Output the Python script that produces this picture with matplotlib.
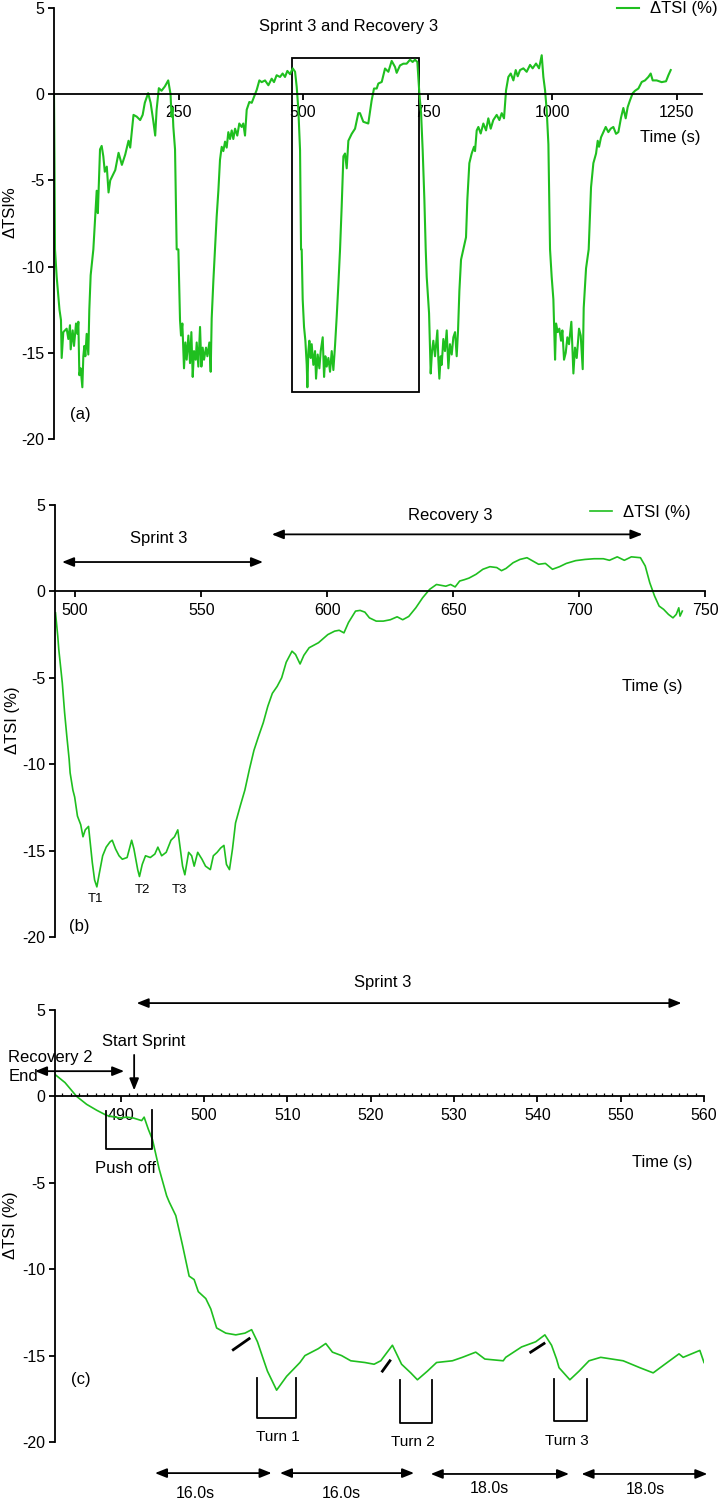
import matplotlib
matplotlib.use("Agg")
import matplotlib.pyplot as plt
from matplotlib.patches import Rectangle
from matplotlib.ticker import MultipleLocator
import numpy as np

plt.rcParams['font.family'] = ['Liberation Sans', 'DejaVu Sans']
plt.rcParams['axes.unicode_minus'] = False

GREEN = '#1fbf1f'
LEGEND_LABEL = 'ΔTSI (%)'

# ---------------- Panel (a): whole session ----------------
a_t1 = [0, 1, 2, 5.4, 11, 14, 15.4, 18.7, 25.4, 28.8, 32.1, 33.5, 37.5, 40.2, 44.2, 46.9, 48.9, 50.9,
        53.5, 56.9, 58.9, 60.9, 62.9, 65.6, 68.9, 70.9, 73.6, 79, 85.7, 88, 92.4, 95.7, 99, 102, 106,
        109.5, 112.9, 123, 129.6, 136.3, 143, 149.6, 153, 159.6, 166, 173, 178, 182.3, 189, 194, 199.1,
        203.2, 206, 210.5, 215.9, 222.6, 229.3, 234, 236, 238, 239.6, 243, 246.3]
a_v1 = [0, -4, -9, -10.6, -12.5, -13.1, -15.3, -13.8, -13.6, -14.2, -13.4, -14.8, -13.7, -14.6, -13.3,
        -13.9, -13.2, -16.3, -15.9, -17.0, -15.2, -14.6, -15.2, -13.9, -15.1, -12.5, -10.5, -9.0, -5.6,
        -6.9, -3.2, -3.0, -3.6, -4.5, -4.2, -5.7, -5.0, -4.4, -3.4, -4.1, -3.5, -2.7, -3.1, -1.2, -1.3,
        -1.5, -1.2, -0.5, 0.06, -0.5, -1.5, -2.4, -0.9, 0.35, 0.2, 0.45, 0.8, 0.0, -1.3, -0.8, -1.9,
        -3.2, -9.0]
a_t2 = [249.7, 253, 255, 257.7, 261, 263.7, 266.4, 269.8, 273.1, 275.8, 278.5, 281.1, 284.5, 286.5,
        289.8, 293.2, 295.9, 298.5, 301.2, 305.2, 307.9, 311.9, 314.6, 316.6, 320, 323.3, 326.6, 330,
        333.3, 336.7, 340, 343.4, 346.7, 350, 353.4, 356.8, 360, 363.5, 368, 372, 376.8, 380, 383.5,
        386.9, 392.2, 397, 401.6, 407, 412.3, 417, 423.7, 430.4, 437, 441.7, 447, 453.8, 459, 463.8,
        468.5, 474, 479.3, 484, 487.3, 490.6, 494, 496]
a_v2 = [-9, -13.1, -14.0, -13.3, -15.9, -14.4, -15.4, -14.0, -15.6, -13.8, -16.4, -14.9, -15.4, -14.4,
        -15.8, -13.5, -15.8, -14.7, -15.4, -14.7, -15.2, -14.4, -16.1, -13.0, -10.8, -9.0, -7.1, -5.6,
        -3.8, -3.05, -3.3, -2.75, -3.1, -2.2, -2.6, -2.1, -2.6, -2.0, -2.4, -1.7, -1.9, -1.7, -2.4, -0.9,
        -0.45, -0.5, -0.15, 0.25, 0.8, 0.7, 0.8, 0.52, 0.9, 0.7, 1.1, 1.0, 1.2, 1.0, 1.35, 1.16, 1.5,
        1.3, 0.42, -0.9, -3.25, -9.0]
a_t3 = [497.3, 499.3, 502, 504.7, 507.4, 508.7, 510.7, 512.7, 515.4, 517.4, 520.7, 524.1, 526.1, 529.4,
        532.8, 535.5, 539.5, 542.2, 544.8, 547.5, 550.9, 554.2, 557.6, 560.9, 564.2, 567.6, 571, 574.3,
        577.6, 581, 584.3, 587.7, 591, 597.7, 604.4, 611, 614.4, 621, 631, 637.8, 642.5, 647.9, 651.2,
        658, 664.6, 671.3, 678, 684.7, 688, 694.7, 701.4, 708, 714.8, 720, 724.8, 729.5, 733.5, 737,
        740.2, 743.6, 746.3]
a_v3 = [-9, -11.9, -13.5, -14.3, -15.7, -17.0, -14.9, -14.3, -15.3, -14.5, -15.7, -14.9, -16.5, -15.1,
        -15.9, -14.9, -14.1, -16.4, -15.2, -15.8, -15.3, -16.1, -14.9, -16.0, -14.6, -12.9, -11.0, -9.0,
        -6.5, -3.6, -3.44, -4.3, -2.7, -2.3, -2.0, -1.1, -1.1, -1.6, -1.7, -0.35, 0.33, 0.33, 0.62, 0.71,
        1.49, 1.3, 1.93, 1.58, 1.24, 1.67, 1.77, 1.77, 2.0, 1.87, 2.0, 1.87, 0.06, -1.1, -3.25, -6.1,
        -9.0]
a_t4 = [748.3, 753, 756.3, 759, 761.6, 765, 769.7, 771.7, 773.7, 776.4, 778.4, 781.7, 785, 788.4, 791.8,
        795, 798.5, 801.8, 805.2, 808.5, 811.2, 813.9, 817.2, 821.9, 827.2, 829.9, 833.9, 838.6, 843.3,
        845.3, 848.7, 852, 856.7, 862, 867.4, 872, 876.8, 882, 888.8, 894.2, 898.9, 903.5, 907.6, 912.2,
        917, 922.3, 927, 931, 935.7, 942.4, 949, 955.8, 961, 967.8, 973.8, 979.2, 982.5, 985.9, 989.2,
        992.6, 995.9]
a_v4 = [-10.6, -12.7, -16.2, -14.9, -14.3, -15.2, -13.7, -15.4, -16.5, -15.2, -15.7, -14.2, -14.9, -13.7,
        -15.9, -14.5, -15.1, -14.1, -13.8, -15.2, -13.7, -11.4, -9.6, -9.0, -8.3, -6.1, -4.0, -3.44,
        -3.05, -3.3, -2.1, -1.9, -2.28, -1.7, -2.1, -1.4, -2.0, -1.5, -1.2, -1.5, -1.1, -1.4, 0.23, 1.0,
        1.2, 0.8, 1.4, 1.04, 1.4, 1.5, 1.3, 1.7, 1.5, 1.78, 1.5, 2.26, 1.0, 0.23, -0.93, -2.9, -9.0]
a_t5 = [999.2, 1002.6, 1006, 1008, 1011.3, 1014.6, 1018, 1020.7, 1024, 1027.4, 1030.7, 1034, 1038.7,
        1042.8, 1046, 1049.5, 1054.1, 1057.5, 1061.5, 1063.5, 1068.2, 1073.5, 1078.2, 1082.9, 1088.3,
        1091.6, 1094.3, 1098.3, 1103, 1107.7, 1113, 1117.7, 1123, 1128.4, 1133.1, 1138.5, 1143.1,
        1147.8, 1151.8, 1156.5, 1161.9, 1166.6, 1173.3, 1180, 1186.6, 1193.3, 1198, 1202, 1210, 1220,
        1228.8, 1233.5, 1238.2]
a_v5 = [-10.6, -11.9, -15.4, -13.3, -13.8, -13.6, -14.3, -13.7, -15.4, -15.0, -14.1, -14.5, -13.2, -16.2,
        -14.7, -15.3, -13.6, -14.0, -15.95, -12.4, -10.1, -9.0, -5.4, -4.0, -3.44, -2.7, -3.05, -2.5,
        -2.2, -1.9, -2.2, -2.0, -1.9, -2.3, -2.2, -1.35, -0.8, -1.4, -0.75, -0.35, 0.06, 0.2, 0.33, 0.71,
        0.8, 1.0, 1.2, 0.8, 0.8, 0.7, 0.75, 1.1, 1.4]

# ---------------- Panel (b): sprint 3 and recovery 3 ----------------
b_time = [492.2, 493.1, 493.5, 494.9, 495.8, 496.7, 497.6, 498, 499.1, 499.8,
          500.9, 502.2, 503.1, 504, 505.3, 506.8, 507.7, 508.6, 509.6, 510.9,
          512.3, 513.8, 514.7, 516, 517.4, 518.7, 520.6, 522.4, 523.3, 524.8,
          525.5, 526.6, 527.9, 529.8, 531.6, 532.8, 534.3, 536.1, 538, 539.4,
          540.7, 541.6, 542.6, 543.5, 545, 546.2, 547.2, 548.6, 550.3, 551.7,
          553.6, 554.8, 556.3, 557.7, 559, 560, 561.2, 562.4, 563.6, 565.5,
          567.3, 569.1, 570.9, 572.7, 574.6, 576.4, 578.2, 580.1, 581.9, 583.7,
          586, 587.4, 589.2, 590.7, 592.8, 596.5, 600.2, 602.9, 604.7, 606.6,
          608.4, 611.2, 613, 614.9, 616.7, 619.4, 622.2, 625, 627.7, 629.9,
          632.3, 635.1, 637.8, 640.6, 643.3, 645.2, 647, 648.9, 650.7, 652.5,
          654.4, 656.2, 659, 661.7, 664.5, 667.2, 669.1, 670.9, 673.7, 676.4,
          679.2, 681, 683.8, 686.5, 689.3, 692.1, 694.8, 698.5, 702.2, 705.8,
          709.5, 711.9, 715, 717.8, 720.6, 724.2, 726.1, 727.9, 729.8, 731.6,
          733.4, 735.3, 737.1, 738.4, 739.4, 739.9, 740.8]
b_tsi = [-1.24, -2.6, -3.36, -5.3, -7.0, -8.4, -9.7, -10.5, -11.5, -11.9,
         -13.0, -13.5, -14.2, -13.8, -13.6, -15.7, -16.7, -17.1, -16.3, -15.3,
         -14.8, -14.5, -14.4, -14.9, -15.3, -15.5, -15.4, -14.4, -14.9, -16.1,
         -16.5, -15.8, -15.3, -15.4, -15.2, -14.8, -15.3, -15.1, -14.4, -14.2,
         -13.8, -14.8, -15.9, -16.4, -15.1, -15.3, -15.9, -15.1, -15.5, -15.9,
         -16.1, -15.3, -15.1, -14.85, -14.7, -15.8, -16.1, -14.9, -13.4, -12.4,
         -11.5, -10.3, -9.2, -8.4, -7.6, -6.65, -5.9, -5.5, -5.0, -4.1,
         -3.46, -3.65, -4.2, -3.7, -3.26, -2.97, -2.5, -2.3, -2.25, -2.4,
         -1.8, -1.14, -1.1, -1.2, -1.53, -1.72, -1.72, -1.64, -1.47, -1.64,
         -1.45, -0.95, -0.37, 0.12, 0.4, 0.35, 0.3, 0.4, 0.26, 0.6,
         0.68, 0.77, 0.99, 1.28, 1.43, 1.38, 1.2, 1.33, 1.66, 1.85,
         1.95, 1.8, 1.57, 1.62, 1.28, 1.43, 1.62, 1.78, 1.85, 1.89,
         1.89, 1.8, 2.0, 1.8, 2.0, 1.95, 1.47, 0.5, -0.27, -0.85,
         -1.04, -1.33, -1.53, -1.33, -0.95, -1.43, -1.14]

# ---------------- Panel (c): sprint 3 detail ----------------
c_time = [482.1, 483.3, 484.7, 485.9, 487.1, 488.3, 489.9, 490.7, 491.5, 492.5,
          492.8, 493.3, 493.8, 494.6, 495.5, 495.8, 496.6, 497.4, 498.2, 498.8,
          499.3, 500.2, 500.8, 501.5, 502.6, 503.8, 504.9, 505.7, 506.4, 507.1,
          507.6, 508.7, 509.9, 511.5, 512.1, 513.7, 514.6, 515.4, 516.5, 517.6,
          519.3, 520.4, 521.2, 522.6, 523.2, 523.7, 524.8, 525.6, 526.8, 527.9,
          529.8, 531, 532.6, 533.7, 535.9, 536.2, 538.1, 539.8, 540.9, 541.7,
          542.3, 542.6, 543.9, 545, 546.2, 547.6, 550.3, 552.3, 553.9, 555.3,
          557, 557.5, 559.5, 560]
c_tsi = [1.27, 0.8, 0.0, -0.46, -0.8, -1.1, -1.25, -1.2, -1.25, -1.4,
         -1.2, -1.9, -2.5, -4.2, -5.75, -6.1, -6.9, -8.6, -10.4, -10.6,
         -11.3, -11.7, -12.3, -13.4, -13.7, -13.8, -13.7, -13.5, -14.2, -15.2,
         -15.9, -17.0, -16.2, -15.4, -15.0, -14.6, -14.3, -14.8, -15.0, -15.3,
         -15.4, -15.5, -15.3, -14.4, -15.0, -15.5, -16.0, -16.4, -15.9, -15.4,
         -15.3, -15.1, -14.8, -15.2, -15.3, -15.1, -14.5, -14.2, -13.8, -14.4,
         -15.2, -15.7, -16.4, -15.9, -15.3, -15.1, -15.3, -15.7, -16.0, -15.5,
         -14.9, -15.1, -14.7, -15.4]

# tick labels
a_xticks = [250, 500, 750, 1000, 1250]
b_xticks = [500, 550, 600, 650, 700, 750]
c_xticks = [490, 500, 510, 520, 530, 540, 550, 560]
y_ticks = [-20, -15, -10, -5, 0, 5]

# annotations (panel c)
turn_names = ['Turn 1', 'Turn 2', 'Turn 3']
turn_boxes = [(506.4, 511.0, -16.3, -18.6), (523.5, 527.4, -16.4, -18.9), (542.0, 545.9, -16.35, -18.8)]
turn_label_pos = [(508.9, -19.7), (525.0, -20.0), (543.6, -19.95)]
lap_labels = ['16.0s', '16.0s', '18.0s', '18.0s']
lap_spans = [(494.1, 508.1, -21.8), (509.1, 525.2, -21.8), (527.2, 543.8, -21.85), (545.3, 560.4, -21.85)]
lap_label_pos = [(499.0, -23.0), (516.5, -23.0), (534.2, -22.7), (553.0, -22.75)]
turn_marks = [((503.5, 505.4), (-14.66, -14.02)), ((521.4, 522.3), (-15.9, -15.3)), ((539.2, 540.8), (-14.8, -14.3))]

# ---------------- combine panel (a) segments ----------------
a_time = []
a_tsi = []
for tt, vv in [(a_t1, a_v1), (a_t2, a_v2), (a_t3, a_v3), (a_t4, a_v4), (a_t5, a_v5)]:
    n = min(len(tt), len(vv))
    if len(tt) != len(vv):
        print('length mismatch', len(tt), len(vv))
    a_time += tt[:n]
    a_tsi += vv[:n]

W, H = 719, 1502
fig = plt.figure(figsize=(W / 100, H / 100), dpi=100)


def px_axes(left, right, top, bottom):
    return fig.add_axes([left / W, 1 - bottom / H, (right - left) / W, (bottom - top) / H])


def style_axes(ax, xlim, xticks):
    ax.set_xlim(*xlim)
    ax.set_ylim(-20, 5)
    ax.spines['top'].set_visible(False)
    ax.spines['right'].set_visible(False)
    ax.spines['bottom'].set_position(('data', 0))
    for s in ('left', 'bottom'):
        ax.spines[s].set_linewidth(1.3)
    ax.set_xticks(xticks)
    ax.set_yticks(y_ticks)
    ax.tick_params(axis='both', which='major', direction='out', length=4, width=1.3,
                   labelsize=11.5, pad=3)
    ax.tick_params(axis='x', which='major', pad=4)
    ax.patch.set_visible(False)


def arrow(ax, x0, x1, y, style='<|-|>'):
    ax.annotate('', xy=(x1, y), xytext=(x0, y),
                arrowprops=dict(arrowstyle=style + ',head_length=0.7,head_width=0.28', color='black',
                                lw=1.3, shrinkA=0, shrinkB=0, mutation_scale=10),
                annotation_clip=False)


# ---------------- Panel (a) ----------------
axa = px_axes(54, 701.5, 8, 439)
style_axes(axa, (0, 1300), a_xticks)
axa.plot(a_time, a_tsi, color=GREEN, lw=1.5, label=LEGEND_LABEL)
axa.add_patch(Rectangle((478.6, -17.3), 733 - 478.6, 2.1 + 17.3, fill=False, ec='black', lw=1.3))
axa.text(591, 3.9, 'Sprint 3 and Recovery 3', ha='center', va='center', fontsize=12)
axa.text(1237, -2.5, 'Time (s)', ha='center', va='center', fontsize=12)
axa.text(52, -18.6, '(a)', ha='center', va='center', fontsize=12)
axa.legend(loc='center left', bbox_to_anchor=((617 - 54) / 647.5, (439 - 9) / 431), frameon=False,
           handlelength=1.3, handletextpad=0.7, borderpad=0, borderaxespad=0, fontsize=12)
fig.text(10 / W, 1 - 212 / H, 'ΔTSI%', rotation=90, ha='center', va='center', fontsize=12)

# ---------------- Panel (b) ----------------
axb = px_axes(55, 705.5, 505, 937)
style_axes(axb, (492, 750), b_xticks)
axb.plot(b_time, b_tsi, color=GREEN, lw=1.2, label=LEGEND_LABEL)
arrow(axb, 494.8, 574.5, 1.7)
arrow(axb, 578, 725, 3.3)
axb.text(533, 3.05, 'Sprint 3', ha='center', va='center', fontsize=12)
axb.text(648.7, 4.4, 'Recovery 3', ha='center', va='center', fontsize=12)
axb.text(729, -5.5, 'Time (s)', ha='center', va='center', fontsize=12)
for lab, (x, y) in zip(['T1', 'T2', 'T3'], [(507.9, -17.8), (526.6, -17.3), (541.3, -17.3)]):
    axb.text(x, y, lab, ha='center', va='center', fontsize=9.5)
axb.text(501.5, -19.4, '(b)', ha='center', va='center', fontsize=12)
axb.legend(loc='center left', bbox_to_anchor=((590 - 55) / 650.5, (937 - 512) / 432), frameon=False,
           handlelength=1.3, handletextpad=0.7, borderpad=0, borderaxespad=0, fontsize=12)
fig.text(12 / W, 1 - 720 / H, 'ΔTSI (%)', rotation=90, ha='center', va='center', fontsize=12)

# ---------------- Panel (c) ----------------
axc = px_axes(55, 704, 1010, 1442)
style_axes(axc, (482.1, 560), c_xticks)
axc.xaxis.set_minor_locator(MultipleLocator(1))
axc.tick_params(axis='x', which='minor', direction='in', length=2.5, width=0.9)
axc.plot(c_time, c_tsi, color=GREEN, lw=1.2)
arrow(axc, 491.9, 557.3, 5.4)
axc.text(521.4, 6.6, 'Sprint 3', ha='center', va='center', fontsize=12)
axc.text(492.7, 3.2, 'Start Sprint', ha='center', va='center', fontsize=12)
axc.annotate('', xy=(491.6, 0.35), xytext=(491.6, 2.4),
             arrowprops=dict(arrowstyle='-|>,head_length=0.7,head_width=0.28', color='black', lw=1.3,
                             shrinkA=0, shrinkB=0, mutation_scale=10), annotation_clip=False)
axc.text(476.5, 2.25, 'Recovery 2', ha='left', va='center', fontsize=12, clip_on=False)
axc.text(476.5, 1.17, 'End', ha='left', va='center', fontsize=12, clip_on=False)
arrow(axc, 479.7, 490.4, 1.46)
axc.plot([488.2, 488.2, 493.8, 493.8], [-0.85, -3.06, -3.06, -0.8], color='black', lw=1.3)
axc.text(490.6, -4.2, 'Push off', ha='center', va='center', fontsize=12)
axc.text(555, -3.8, 'Time (s)', ha='center', va='center', fontsize=12)
for (xs, ys) in turn_marks:
    axc.plot(xs, ys, color='black', lw=2)
for name, (x0, x1, top, bot), (lx, ly) in zip(turn_names, turn_boxes, turn_label_pos):
    axc.plot([x0, x0, x1, x1], [top, bot, bot, top], color='black', lw=1.3)
    axc.text(lx, ly, name, ha='center', va='center', fontsize=11, clip_on=False)
for lab, (x0, x1, y), (lx, ly) in zip(lap_labels, lap_spans, lap_label_pos):
    arrow(axc, x0, x1, y)
    axc.text(lx, ly, lab, ha='center', va='center', fontsize=11.5, clip_on=False)
axc.text(485.2, -16.4, '(c)', ha='center', va='center', fontsize=12)
fig.text(11 / W, 1 - 1225 / H, 'ΔTSI (%)', rotation=90, ha='center', va='center', fontsize=12)

fig.savefig('out.png', dpi=100)
